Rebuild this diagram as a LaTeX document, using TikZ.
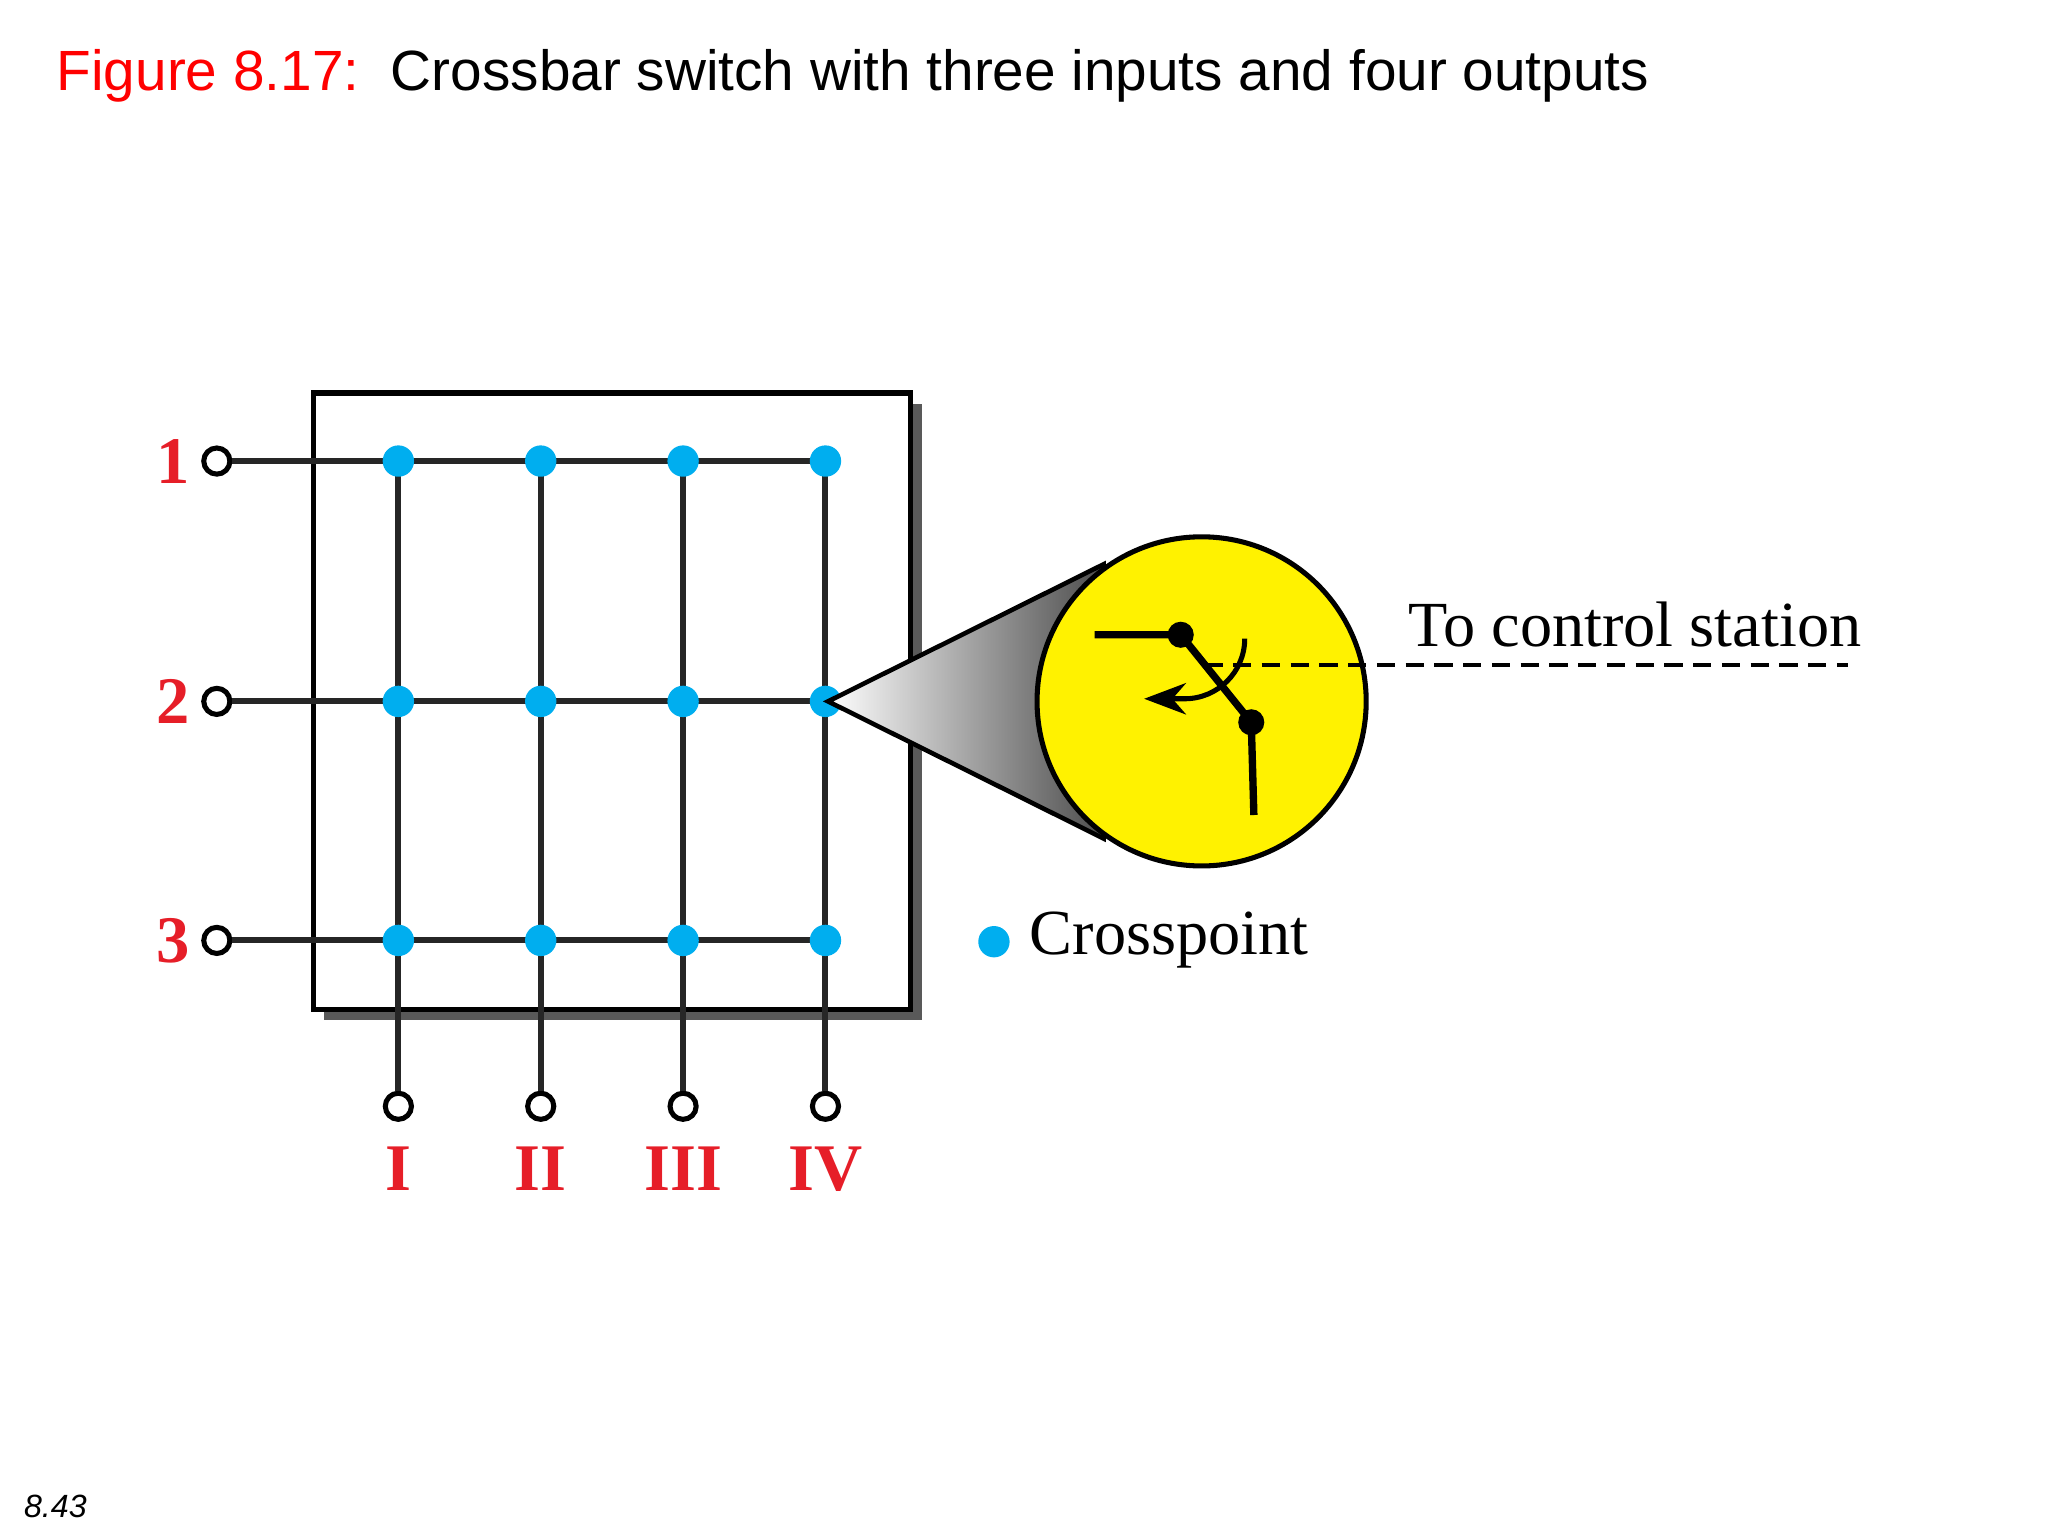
\documentclass[tikz,border=0pt]{standalone}
\usepackage{fontspec}
\setmainfont{Liberation Serif}
\newfontfamily\arial{Liberation Sans}
\usetikzlibrary{arrows.meta}
\definecolor{cpblue}{RGB}{0,174,239}
\definecolor{lblred}{RGB}{230,30,40}
\definecolor{swyel}{RGB}{255,242,0}
\begin{document}
\begin{tikzpicture}[x=0.01cm,y=-0.01cm,
  wire/.style={line width=1.3pt,black!85},
  term/.style={circle,draw,line width=1.1pt,fill=white,minimum size=0.2cm,inner sep=0pt},
  xpt/.style={circle,fill=cpblue,minimum size=0.24cm,inner sep=0pt},
  lbl/.style={text=lblred,font=\bfseries\fontsize{14.5}{17}\selectfont}]
\useasboundingbox (0,0) rectangle (1568,1176);
\node[anchor=west,font=\arial\fontsize{12.35}{15}\selectfont] (title) at (31,58) {\textcolor{red}{Figure 8.17:}\ \ Crossbar switch with three inputs and four outputs};
\node[anchor=west,font=\arial\itshape\fontsize{7}{8}\selectfont] (pg) at (6,1153) {8.43};
% box with shadow
\fill[black!65] (248,309) rectangle (706,781);
\draw[line width=1.2pt,fill=white] (240,301) rectangle (697,773);
% inputs
\foreach \r/\y in {1/353,2/537,3/720}{
  \node[term] (in\r) at (166,\y) {};
  \node[lbl,anchor=east] (l\r) at (158,\y) {\r};
}
\foreach \c/\x/\t in {1/305/I,2/414/II,3/523/III,4/632/IV}{
  \node[term] (out\c) at (\x,847) {};
  \node[lbl] (o\c) at (\x,895) {\t};
}
\foreach \r/\y in {1/353,2/537,3/720}
 \foreach \c/\x in {1/305,2/414,3/523,4/632}
  \coordinate (p\r\c) at (\x,\y);
\foreach \r in {1,2,3} \draw[wire] (in\r) -- (p\r4);
\foreach \c in {1,2,3,4} \draw[wire] (p1\c) -- (out\c);
\foreach \r in {1,2,3}\foreach \c in {1,2,3,4} \node[xpt] (x\r\c) at (p\r\c) {};
% cone
\coordinate (tip) at (634,537);
\shade[left color=white,right color=black!70,draw=black,line width=1pt] (tip) -- (845,432) -- (845,642) -- cycle;
\draw[line width=1.1pt,fill=swyel] (920,537) circle [radius=126];
% switch
\draw[line width=1pt,dash pattern=on 0.14cm off 0.08cm] (922,509) -- (1415,509);
\coordinate (sa) at (904,486);
\coordinate (sb) at (958,553);
\draw[line width=1.6pt] (838,486) -- (sa) -- (sb) -- (960,624);
\fill (sa) circle[radius=10];
\fill (sb) circle[radius=10];
\draw[line width=1.1pt,-{Stealth[length=0.32cm,width=0.24cm]}] (953,489) arc[start angle=0,end angle=90,radius=46] -- (876,535);
\node[anchor=west,font=\fontsize{14}{17}\selectfont] (cs) at (1066,478) {To control station};
\node[circle,fill=cpblue,minimum size=0.24cm,inner sep=0pt] (legdot) at (761,721) {};
\node[anchor=west,font=\fontsize{14}{17}\selectfont] (leg) at (776,720) {Crosspoint};
\end{tikzpicture}
\end{document}
